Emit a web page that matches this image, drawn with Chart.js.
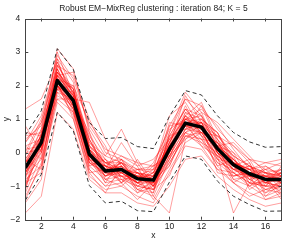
<!DOCTYPE html>
<html>
<head>
<meta charset="utf-8">
<script src="https://cdn.jsdelivr.net/npm/chart.js@4/dist/chart.umd.min.js"></script>
<style>
  html, body { margin: 0; padding: 0; background: #fff; }
  #wrap { width: 284px; height: 242px; }
</style>
</head>
<body>
<div id="wrap"><canvas id="chart"></canvas></div>
<script>
// Données
const xValues = [1, 2, 3, 4, 5, 6, 7, 8, 9, 10, 11, 12, 13, 14, 15, 16, 17];
const xTicks = [2, 4, 6, 8, 10, 12, 14, 16];
const yTicks = [-2, -1, 0, 1, 2, 3, 4];

const meanCurve = [-0.45, 0.3, 2.15, 1.55, -0.05, -0.55, -0.5, -0.78, -0.82, 0.1, 0.88, 0.76, 0.12, -0.36, -0.63, -0.8, -0.8];
const upperBound = [0.52, 1.25, 3.1, 2.48, 0.9, 0.42, 0.45, 0.18, 0.12, 1.08, 1.85, 1.72, 1.1, 0.6, 0.32, 0.16, 0.18];
const lowerBound = [-1.42, -0.65, 1.2, 0.65, -0.98, -1.5, -1.45, -1.73, -1.76, -0.88, -0.1, -0.2, -0.85, -1.3, -1.55, -1.75, -1.74];

const sampleCurves = [
    [-0.2, 0.5, 2.6, 1.9, 0.3, -0.3, -0.2, -0.5, -0.6, 0.5, 1.3, 1.1, 0.4, -0.1, -0.4, -0.6, -0.5],
    [-0.9, 0.0, 1.8, 1.2, -0.4, -0.8, -0.7, -1.0, -1.1, -0.3, 0.5, 0.4, -0.2, -0.6, -0.9, -1.0, -1.1],
    [0.3, 0.9, 2.9, 2.2, 0.8, 0.1, -0.1, -0.3, -0.4, 0.8, 1.6, 1.4, 0.7, 0.2, -0.2, -0.3, -0.4],
    [-1.3, -0.4, 1.5, 1.0, -0.7, -1.1, -1.0, -1.3, -1.5, -0.6, 0.2, 0.1, -0.5, -0.9, -1.2, -1.4, -1.3],
    [-0.6, 0.4, 2.3, 1.7, 0.2, -0.6, -0.3, -0.9, -0.7, 0.2, 1.1, 0.6, 0.3, -0.3, -0.5, -0.9, -0.7],
    [0.1, 0.2, 2.0, 1.3, -0.2, -0.4, -0.6, -0.6, -1.0, -0.1, 0.7, 0.9, 0.0, -0.5, -0.7, -0.7, -0.9],
    [-0.4, 0.7, 2.4, 1.8, 0.5, -0.2, -0.5, -0.7, -0.5, 0.4, 1.0, 0.8, 0.5, 0.0, -0.4, -0.8, -0.6],
    [-1.0, 0.1, 2.1, 1.4, -0.3, -0.7, -0.4, -1.1, -0.9, 0.0, 0.9, 0.5, -0.1, -0.4, -0.8, -1.1, -0.9],
    [1.3, 1.6, 2.7, 1.6, 0.4, -0.5, -0.3, -0.8, -0.6, 0.3, 1.2, 1.0, 0.2, -0.2, -0.6, -0.7, -0.8],
    [-1.8, -1.3, 1.2, 0.7, -0.8, -1.2, -1.2, -1.5, -1.6, -1.0, -0.2, -0.1, -0.7, -1.1, -1.4, -1.6, -1.5],
    [-0.5, 0.3, 3.1, 2.5, 0.6, -0.4, -0.6, -0.9, -1.2, 0.6, 1.8, 1.2, 0.1, -0.7, -0.6, -0.9, -1.0],
    [0.5, 0.6, 2.2, 1.5, 0.0, -0.9, -0.2, -0.6, -0.8, -0.4, 0.6, 1.0, 0.6, -0.3, -0.8, -0.5, -0.6],
    [-0.7, -0.2, 1.9, 2.0, 0.9, 0.2, -0.8, -1.0, -0.7, 0.9, 0.8, 0.3, -0.3, -0.5, -0.3, -1.2, -0.8],
    [-1.5, -0.8, 2.0, 1.1, -0.6, -0.5, 0.3, -0.4, -1.3, -1.8, 0.4, 0.7, 0.2, -0.8, -1.0, -0.8, -1.2],
    [0.0, 1.0, 2.5, 1.3, -0.5, -1.0, -0.9, -0.2, -0.9, 0.3, 1.4, 0.5, -0.4, -0.2, -0.7, -1.0, -0.4],
    [-0.3, 0.2, 2.8, 2.1, 0.1, -0.3, -0.5, -0.8, -0.3, 0.7, 1.0, 1.3, 0.8, 0.1, -0.5, -0.4, -0.7],
    [-1.1, 0.5, 1.6, 1.6, 1.5, 0.4, -0.4, -1.2, -1.0, -0.2, 0.6, 0.2, -0.1, -1.8, -0.9, -1.2, -1.0],
    [0.8, 0.0, 2.3, 1.9, -0.1, -0.7, -0.6, -0.5, -0.4, 0.0, 1.1, 1.5, 0.4, -0.6, -0.4, -0.6, -0.9],
    [-0.8, 0.6, 2.0, 1.6, 0.3, -0.1, 0.7, -0.3, -1.0, 0.5, 0.7, 0.9, -0.2, -0.3, -0.9, -0.9, -0.6],
    [-0.2, -0.5, 1.7, 1.4, -0.2, -0.9, -0.8, -0.7, -1.4, -0.5, 0.3, 0.6, 0.5, 0.2, -0.3, -1.3, -1.1],
    [0.4, 0.8, 2.7, 1.7, 0.1, -0.6, -0.3, -0.9, -0.5, 1.1, 1.5, 0.7, 0.0, -0.5, -0.5, -0.3, -0.2],
    [-1.2, -0.1, 2.2, 1.2, -0.4, -0.2, -0.7, -1.1, -1.2, 0.2, 0.9, 0.4, 0.3, -0.1, -1.1, -0.8, -1.4],
    [-0.6, 0.3, 2.5, 1.5, 0.6, -0.8, -1.0, -0.6, -0.8, -0.2, 1.2, 0.8, -0.6, -0.7, -0.6, -0.5, -0.3],
    [0.2, 0.4, 1.9, 1.8, -0.3, -0.4, -0.1, -0.4, -0.2, 0.4, 0.8, 1.2, 0.9, 0.4, -0.1, -0.6, -0.8],
    [-0.9, -0.6, 2.4, 1.9, 0.0, -0.5, -0.9, -1.4, -0.9, -0.3, 0.5, 0.3, 0.0, -0.9, -1.3, -1.1, -1.0],
    [-0.1, 0.9, 2.1, 1.0, -0.6, -1.2, -0.4, -0.8, -0.6, 0.6, 1.6, 1.1, 0.2, 0.0, -0.8, -0.7, -0.5],
    [-0.4, 0.1, 2.6, 2.3, 1.0, 0.0, -0.2, -1.0, -1.1, -0.1, 0.4, 0.9, 0.6, -0.4, -0.2, -1.0, -0.9],
    [0.6, 0.5, 2.0, 1.4, 0.2, -0.3, -0.5, -0.6, -0.7, 0.1, 1.0, 0.6, -0.2, -0.6, -0.9, -0.4, -0.7],
    [-1.4, -0.3, 1.8, 1.6, -0.1, -0.6, -0.8, -1.2, -0.8, 0.4, 1.3, 0.7, 0.1, -0.2, -0.7, -1.4, -1.2],
    [-0.3, 0.7, 3.0, 1.7, -0.2, -0.7, -0.3, -0.5, -1.0, -0.4, 0.7, 1.4, 0.3, -0.4, -0.6, -0.8, -0.6],
    [0.0, 0.1, 2.2, 2.0, 0.4, -0.4, -0.6, -0.9, -0.6, 0.2, 1.7, 0.9, 0.5, -0.1, -0.4, -0.9, -1.0],
    [-0.7, 0.4, 2.0, 1.3, 0.1, -0.5, -0.7, -0.7, -0.9, 0.8, 0.9, 0.2, -0.5, -0.6, -1.0, -0.6, -0.7],
    [-0.5, 0.2, 2.4, 1.5, -0.3, -0.6, -0.4, -1.1, -1.3, -0.2, 0.6, 0.8, 0.4, -0.3, -0.5, -1.1, -1.2],
    [-1.0, 0.6, 2.6, 1.8, 0.2, -0.2, -0.9, -0.5, -0.5, 0.0, 1.0, 1.1, 0.0, -0.8, -0.7, -0.8, -0.5],
    [0.2, -0.2, 1.6, 1.2, -0.5, -1.0, -0.6, -0.9, -1.1, -0.7, 0.5, 0.6, -0.1, -0.5, -0.4, -0.7, -0.8],
    [-0.3, 0.5, 2.3, 2.4, 0.7, -0.1, -0.3, -0.6, -0.7, 0.3, 1.1, 0.5, 0.2, 0.3, -0.2, -0.5, -0.9],
    [-0.8, -0.4, 2.1, 1.6, -0.1, -0.8, -0.5, -1.0, -0.8, 0.1, 0.8, 0.9, 0.0, -0.4, -1.0, -1.3, -0.9],
    [0.3, 1.1, 2.8, 1.4, 0.0, -0.3, -0.7, -0.7, -1.0, 0.5, 1.3, 0.7, -0.3, -0.7, -0.5, -0.6, -1.1],
    [-0.6, 0.0, 2.2, 1.7, 0.4, -0.6, -0.2, -0.8, -0.4, -0.1, 0.9, 1.0, 0.6, -0.2, -0.9, -1.0, -0.6],
    [-1.1, 0.3, 1.9, 1.5, -0.2, -0.4, -0.9, -0.6, -1.1, 0.2, 0.6, 0.4, -0.4, -0.9, -0.6, -0.7, -1.3],
    [-0.4, 0.3, 2.2, 1.6, 0.0, -0.5, -0.5, -0.7, -0.8, 0.1, 0.9, 0.8, 0.1, -0.3, -0.6, -0.8, -0.8],
    [-0.5, 0.2, 2.1, 1.5, -0.1, -0.6, -0.4, -0.8, -0.9, 0.0, 0.8, 0.7, 0.2, -0.4, -0.7, -0.7, -0.9],
    [-0.3, 0.4, 2.3, 1.7, 0.1, -0.4, -0.6, -0.9, -0.7, 0.2, 1.0, 0.9, 0.0, -0.3, -0.5, -0.9, -0.7],
    [-0.6, 0.1, 2.0, 1.4, -0.2, -0.7, -0.5, -0.6, -1.0, 0.1, 0.8, 0.6, 0.3, -0.5, -0.7, -0.8, -0.8],
    [-0.2, 0.5, 2.4, 1.8, 0.2, -0.3, -0.3, -0.8, -0.8, 0.3, 1.1, 0.8, 0.2, -0.2, -0.6, -0.6, -0.7],
    [-0.7, 0.2, 1.9, 1.3, -0.3, -0.6, -0.7, -0.9, -0.9, -0.1, 0.7, 0.6, -0.1, -0.5, -0.8, -1.0, -1.0],
    [-0.4, 0.4, 2.5, 1.6, 0.1, -0.5, -0.4, -0.7, -0.7, 0.2, 0.9, 0.9, 0.3, -0.3, -0.5, -0.7, -0.6],
    [-0.5, 0.3, 2.2, 1.9, 0.0, -0.6, -0.6, -0.8, -0.9, 0.0, 1.0, 0.7, 0.0, -0.4, -0.7, -0.9, -0.8],
    [-0.3, 0.2, 2.3, 1.4, -0.1, -0.4, -0.5, -0.9, -0.8, 0.2, 0.8, 0.8, 0.1, -0.4, -0.6, -0.8, -0.9],
    [-0.6, 0.4, 2.0, 1.6, 0.1, -0.7, -0.5, -0.7, -0.8, 0.1, 0.9, 0.7, 0.2, -0.3, -0.6, -0.8, -0.7]
];

const titleText = 'Robust EM\u2212MixReg clustering : iteration 84; K = 5';
const FONT = "'Liberation Sans', Arial, sans-serif";
const TEXT_COLOR = '#222';
const AXIS_COLOR = '#444';

const toPoints = ys => ys.map((y, i) => ({ x: xValues[i], y: y }));
const minus = v => String(v).replace('-', '\u2212');

// Cadre façon MATLAB : boîte complète + graduations vers l'intérieur
const boxPlugin = {
    id: 'matlabBox',
    afterDatasetsDraw(chart) {
        const { ctx, chartArea: a, scales } = chart;
        const tl = 3;
        ctx.save();
        ctx.strokeStyle = AXIS_COLOR;
        ctx.lineWidth = 1;
        ctx.beginPath();
        xTicks.forEach(v => {
            const px = Math.round(scales.x.getPixelForValue(v)) + 0.5;
            ctx.moveTo(px, a.bottom); ctx.lineTo(px, a.bottom - tl);
            ctx.moveTo(px, a.top); ctx.lineTo(px, a.top + tl);
        });
        yTicks.forEach(v => {
            const py = Math.round(scales.y.getPixelForValue(v)) + 0.5;
            ctx.moveTo(a.left, py); ctx.lineTo(a.left + tl, py);
            ctx.moveTo(a.right, py); ctx.lineTo(a.right - tl, py);
        });
        ctx.stroke();
        ctx.strokeRect(Math.round(a.left) + 0.5, Math.round(a.top) + 0.5,
            Math.round(a.right - a.left), Math.round(a.bottom - a.top));
        ctx.fillStyle = TEXT_COLOR;
        ctx.font = '8.5px ' + FONT;
        ctx.textAlign = 'center';
        ctx.textBaseline = 'middle';
        ctx.fillText(titleText, (a.left + a.right) / 2, 9);
        ctx.restore();
    }
};

const datasets = [
    {
        data: toPoints(meanCurve),
        borderColor: '#000',
        borderWidth: 3.5,
        borderJoinStyle: 'round'
    },
    {
        data: toPoints(upperBound),
        borderColor: '#333',
        borderWidth: 1,
        borderDash: [4, 3]
    },
    {
        data: toPoints(lowerBound),
        borderColor: '#333',
        borderWidth: 1,
        borderDash: [4, 3]
    },
    ...sampleCurves.map(c => ({
        data: toPoints(c),
        borderColor: 'rgba(255, 0, 0, 0.38)',
        borderWidth: 1
    }))
];

new Chart(document.getElementById('chart'), {
    type: 'line',
    data: { datasets },
    options: {
        responsive: true,
        maintainAspectRatio: false,
        animation: false,
        events: [],
        layout: { padding: { top: 18.5, right: 2.5, left: 0, bottom: 0 } },
        elements: { point: { radius: 0 }, line: { tension: 0 } },
        plugins: {
            legend: { display: false },
            title: { display: false },
            tooltip: { enabled: false }
        },
        scales: {
            x: {
                type: 'linear',
                min: 1,
                max: 17,
                afterBuildTicks: s => { s.ticks = xTicks.map(v => ({ value: v })); },
                afterFit: s => { s.height = 22.3; },
                grid: { display: false, drawTicks: false },
                border: { display: false },
                ticks: {
                    padding: 2,
                    color: TEXT_COLOR,
                    font: { size: 8.5, family: FONT },
                    maxRotation: 0,
                    callback: v => minus(v)
                },
                title: {
                    display: true,
                    text: 'x',
                    color: TEXT_COLOR,
                    font: { size: 8.5, family: FONT },
                    padding: { top: 0, bottom: 1 }
                }
            },
            y: {
                min: -2,
                max: 4,
                afterBuildTicks: s => { s.ticks = yTicks.map(v => ({ value: v })); },
                afterFit: s => { s.width = 25.3; },
                grid: { display: false, drawTicks: false },
                border: { display: false },
                ticks: {
                    padding: 5,
                    color: TEXT_COLOR,
                    font: { size: 8.5, family: FONT },
                    callback: v => minus(v)
                },
                title: {
                    display: true,
                    text: 'y',
                    color: TEXT_COLOR,
                    font: { size: 8.5, family: FONT },
                    padding: { top: 2, bottom: 0 }
                }
            }
        }
    },
    plugins: [boxPlugin]
});
</script>
</body>
</html>
